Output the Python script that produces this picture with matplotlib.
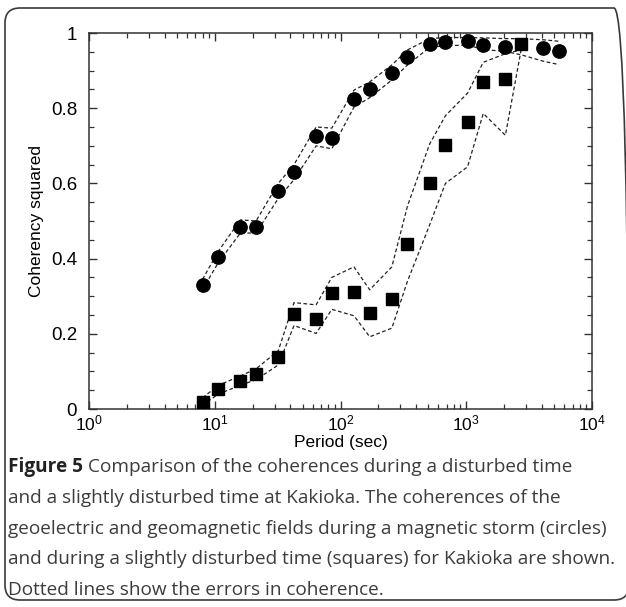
import numpy as np
import matplotlib.pyplot as plt
from matplotlib.patches import FancyBboxPatch
from matplotlib.ticker import MultipleLocator, FuncFormatter

plt.rcParams['font.family'] = ['Liberation Sans', 'DejaVu Sans']
plt.rcParams['mathtext.fontset'] = 'custom'
plt.rcParams['mathtext.rm'] = 'Liberation Sans'

# periods (sec) shared by both data sets
period = [8, 10.7, 16, 21.3, 32, 42.7, 64, 85.3, 128, 170.7,
          256, 341, 512, 683, 1024, 1365, 2048, 2731, 4096, 5461]

# magnetic storm (circles), point at 2731 s hidden under a square
storm = [0.33, 0.405, 0.485, 0.483, 0.58, 0.63, 0.727, 0.72, 0.824, 0.85,
         0.894, 0.935, 0.972, 0.977, 0.98, 0.968, 0.962, np.nan, 0.961, 0.953]
storm_hi = [0.345, 0.42, 0.503, 0.50, 0.60, 0.65, 0.75, 0.747, 0.848, 0.87,
            0.915, 0.955, 0.985, 0.988, 0.988, 0.987, 0.985, 0.985, 0.982, 0.978]
storm_lo = [0.318, 0.39, 0.468, 0.468, 0.56, 0.61, 0.70, 0.692, 0.803, 0.828,
            0.875, 0.915, 0.962, 0.966, 0.968, 0.956, 0.951, 0.942, 0.925, 0.916]

# slightly disturbed time (squares), first 18 periods
quiet = [0.019, 0.052, 0.074, 0.092, 0.139, 0.252, 0.239, 0.308, 0.31, 0.254,
         0.293, 0.44, 0.60, 0.703, 0.763, 0.87, 0.877, 0.97]
quiet_hi = [0.03, 0.063, 0.088, 0.107, 0.155, 0.283, 0.277, 0.35, 0.378, 0.317,
            0.378, 0.54, 0.705, 0.78, 0.84, 0.922, 0.945, 0.955]
quiet_lo = [0.01, 0.04, 0.063, 0.078, 0.117, 0.222, 0.201, 0.265, 0.248, 0.192,
            0.215, 0.34, 0.49, 0.60, 0.644, 0.786, 0.728, 0.955]

caption = [
    "Comparison of the coherences during a disturbed time",
    "and a slightly disturbed time at Kakioka. The coherences of the",
    "geoelectric and geomagnetic fields during a magnetic storm (circles)",
    "and during a slightly disturbed time (squares) for Kakioka are shown.",
    "Dotted lines show the errors in coherence.",
]

W, H = 626, 607
fig = plt.figure(figsize=(W / 100, H / 100), dpi=100)

# rounded frame around figure + caption
frame = FancyBboxPatch((0.05, 0.07), 6.24, 5.92,
                       boxstyle="round,pad=0,rounding_size=0.15",
                       transform=fig.dpi_scale_trans, fill=False,
                       edgecolor='#3a3a3a', linewidth=1.2)
fig.patches.append(frame)

ax = fig.add_axes([89 / W, 1 - 409 / H, 503 / W, 376 / H])

n = len(quiet)
dash = (0, (3, 2))
for hi, lo, x in [(storm_hi, storm_lo, period), (quiet_hi, quiet_lo, period[:n])]:
    ax.plot(x, hi, color='#222222', lw=0.9, ls=dash)
    ax.plot(x, lo, color='#222222', lw=0.9, ls=dash)

ax.plot(period, storm, 'o', color='black', ms=9.6, zorder=3)
ax.plot(period[:n], quiet, 's', color='black', ms=8.6, zorder=3)

ax.set_xscale('log')
ax.set_xlim(1, 1e4)
ax.set_ylim(0, 1)
ax.yaxis.set_major_locator(MultipleLocator(0.2))
ax.yaxis.set_minor_locator(MultipleLocator(0.05))
ax.yaxis.set_major_formatter(FuncFormatter(lambda v, _: '%g' % round(v, 2)))

ax.tick_params(which='both', direction='in', top=True, right=True,
               color='#333333', labelsize=13.5, labelcolor='black')
ax.tick_params(which='major', length=6, width=1)
ax.tick_params(which='minor', length=3.5, width=0.9)
ax.tick_params(axis='x', which='major', pad=3.5, labelsize=12.5)
ax.tick_params(axis='y', which='major', pad=8.5)
for s in ax.spines.values():
    s.set_linewidth(1.1)
    s.set_color('#333333')

ax.set_xlabel('Period (sec)', fontsize=12.5)
ax.xaxis.set_label_coords(0.5, -0.068)
ax.set_ylabel('Coherency squared', fontsize=12.5, labelpad=5)

# caption
cap_font = ['Open Sans', 'DejaVu Sans']
cap_size = 13.7
y0 = 467
t = fig.text(8 / W, 1 - y0 / H, 'Figure 5', family=cap_font, fontweight='bold',
             fontsize=cap_size, color='#222222', va='center')
fig.canvas.draw()
bb = t.get_window_extent(renderer=fig.canvas.get_renderer())
fig.text((bb.x1 + 5) / W, 1 - y0 / H, caption[0], family=cap_font,
         fontsize=cap_size, color='#3c3c3c', va='center')
for i, line in enumerate(caption[1:]):
    fig.text(8 / W, 1 - (y0 + 30.8 * (i + 1)) / H, line, family=cap_font,
             fontsize=cap_size, color='#3c3c3c', va='center')

fig.savefig('out.png', dpi=100)
